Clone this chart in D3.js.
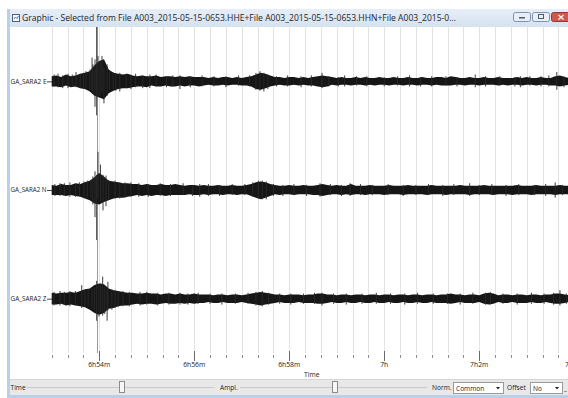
<!DOCTYPE html>
<html>
<head>
<meta charset="utf-8">
<script src="https://cdn.jsdelivr.net/npm/d3@7"></script>
<style>
  html, body { margin: 0; padding: 0; background: #ffffff; }
  svg { display: block; }
  text { font-family: "Open Sans", "Noto Sans", sans-serif; }
</style>
</head>
<body>
<svg id="chart" width="568" height="398"></svg>
<script>
// ---- Data -----------------------------------------------------------------
const windowTitle = "Graphic - Selected from File A003_2015-05-15-0653.HHE+File A003_2015-05-15-0653.HHN+File A003_2015-0...";
const channels = ["GA_SARA2 E", "GA_SARA2 N", "GA_SARA2 Z"];
const recordStart = new Date(2015, 4, 15, 6, 53, 0);
const recordEnd = new Date(2015, 4, 15, 7, 4, 0);
const sampleStep = 6;             // seconds between envelope samples
const pickSecond = 57;            // marker line, seconds after start
const ampRange = 64;              // common normalisation: +/- amplitude per trace band

// Envelope of each trace (upper / lower excursion, amplitude units)
const eUpper = [6,7,5,8,6,7,9, 10,12,19, 24,26,14, 10,9,8,9,
  7,6,7,6,6,7,5,6,6,5,6,5,6,5,5, 5,4,5,4,5,5,4,5,4,5,6, 8,10,9,7,
  5,5,4,5,5,4,5,4,5,6, 7,6,
  5,4,5,4,4,5,4,5,4,4, 5,4,4,5,4,4,5,4,4,5, 4,4,5,5,4,6,5,4,4,5,
  4,4,5,4,4,5,4,4,4,5, 4,5,4,4,5,4,4,6,7,5,4];
const eLower = [6,6,7,5,7,6,8, 9,12,17, 19,21,14, 11,9,8,8,
  7,6,6,7,5,6,6,5,6,6,5,6,5,5,6, 5,4,5,5,4,5,4,4,5,5,6, 9,10,8,6,
  5,4,5,5,4,5,4,5,5,6, 7,6,
  4,5,4,4,5,4,4,5,4,5, 4,4,5,4,4,5,4,4,5,4, 4,5,4,5,5,5,4,4,5,4,
  4,5,4,4,4,5,4,5,4,4, 5,4,4,5,4,4,5,5,6,5,4];
const nUpper = [6,5,7,6,6,8,7, 9,11,15, 20,16,11, 10,9,8,8,
  7,7,6,7,6,6,7,6,6,7,6,5,6,6,5, 6,5,5,6,5,5,6,5,5,6,7, 9,10,9,7,
  6,5,5,6,5,5,6,5,5,6, 7,6,
  5,6,5,5,7,5,5,5,6,5, 5,5,6,5,5,5,6,5,5,5, 5,6,5,5,5,5,5,6,5,5,
  5,5,6,5,5,5,5,5,5,6, 5,5,5,6,5,5,5,5,6,5,5];
const nLower = [6,6,6,7,6,7,8, 10,12,16, 17,14,12, 10,9,9,8,
  7,6,7,6,7,6,6,7,6,6,6,6,5,6,6, 5,6,5,5,6,5,5,6,5,5,7, 9,11,9,7,
  5,6,5,5,6,5,5,5,6,6, 7,6,
  5,5,6,5,6,5,5,6,5,5, 5,6,5,5,5,6,5,5,5,5, 6,5,5,5,6,5,5,5,5,6,
  5,5,5,5,6,5,5,5,6,5, 5,5,6,5,5,5,5,6,5,5,5];
const zUpper = [7,6,7,7,8,7,9, 11,12,16, 18,17,12, 10,9,8,7,
  7,6,6,7,6,6,5,6,6,5,6,5,5,6,5, 5,5,4,5,5,4,5,5,4,5,6, 7,8,7,6,
  5,5,4,5,5,5,4,5,5,6, 6,5,
  5,4,5,5,4,5,5,4,5,5, 4,5,5,4,5,5,4,5,5,4, 5,5,4,5,5,6,5,5,4,5,
  5,4,6,7,6,4,5,5,4,5, 5,4,5,5,4,5,5,6,6,5,4];
const zLower = [7,7,6,8,7,8,9, 10,13,17, 19,17,12, 11,9,8,8,
  7,6,7,6,6,7,6,5,6,6,5,6,5,6,5, 5,4,5,5,4,5,5,5,4,5,6, 7,8,7,6,
  5,4,5,5,5,4,5,5,5,6, 6,5,
  4,5,5,4,5,5,4,5,5,4, 5,5,4,5,5,4,5,5,4,5, 5,4,5,5,5,6,5,4,5,5,
  5,4,6,7,6,4,5,5,4,5, 5,5,4,5,5,4,5,6,6,5,4];

// Individual peaks: [seconds after start, max, min]
const eSpikes = [[8,9,-7],[20.6,9,-8],[30.7,11,-7],[43.3,12,-8],[48.4,14,-10],
  [51,28,-12],[52,20,-14],[54.7,26,-30],[56.8,80,-40],[58.5,30,-18],[61,24,-18],
  [63.5,30,-14],[66,16,-26],[70,20,-17],
  [77.6,11,-9],[86,10,-12],[106,9,-7],[124,8,-8],[162,7,-9],[263,12,-11],[268,10,-12],
  [341.5,10,-8],[370,7,-6],[452,7,-6],[535,8,-7],[592,6,-7],[638,11,-10],
  [3,8,-6],[14,7,-8],[26,8,-6],[36,9,-8],[40,10,-9],[73,13,-11],
  [81,9,-11],[94,9,-8],[100,8,-9],[115,7,-8],[132,8,-6],[145,6,-7],[153,7,-6],[175,6,-7],
  [190,7,-6],[205,6,-6],[220,6,-7],[236,7,-5],[250,7,-6],[258,10,-10],[273,8,-9],[284,6,-6],
  [298,7,-6],[315,6,-7],[328,7,-6],[350,6,-6],[362,5,-6],[385,6,-5],[398,6,-6],[420,5,-6],
  [437,6,-5],[466,5,-6],[480,6,-6],[498,6,-5],[512,5,-6],[548,6,-6],[566,6,-5],[585,5,-6],
  [604,6,-5],[618,6,-6],[628,7,-6],[647,6,-7]];
const nSpikes = [[10.5,8,-7],[23,9,-8],[40.8,10,-9],[49.6,12,-10],[52,16,-17],
  [54.7,22,-32],[56.8,18,-59],[58.5,45,-10],[61.6,30,-14],[64.8,18,-24],[68.6,17,-19],
  [80,11,-10],[92.6,9,-9],[137,8,-7],[187,7,-8],[261,11,-10],[271,10,-11],[339,8,-8],
  [377,8,-7],[528,8,-7],[636,9,-9],
  [4,7,-7],[16,8,-6],[30,7,-8],[35,9,-7],[45,11,-9],[72,12,-12],[86,9,-10],
  [100,9,-8],[110,8,-8],[122,7,-8],[150,7,-7],[166,8,-6],[178,6,-7],[198,7,-7],[212,6,-7],
  [228,7,-6],[244,7,-6],[254,9,-8],[266,11,-11],[280,7,-7],[292,6,-7],[306,7,-6],[322,6,-7],
  [352,7,-6],[366,6,-7],[390,7,-6],[405,6,-6],[425,7,-6],[444,6,-7],[460,6,-6],[476,7,-6],
  [494,6,-7],[508,7,-6],[540,6,-6],[556,7,-6],[574,6,-7],[590,7,-6],[610,6,-6],[624,7,-7],
  [645,6,-6]];
const zSpikes = [[10.5,9,-8],[23,9,-9],[37.9,16,-11],[46,11,-9],[51,12,-12],
  [56.8,21,-26],[59.7,17,-21],[62,18,-16],[64.4,26,-20],[67,16,-18],[70,14,-26],[71,20,-14],
  [76,11,-13],[84,9,-10],[111.5,8,-8],[162,7,-7],[266,9,-9],[341.5,7,-8],[554,8,-7],[642,10,-8],
  [3,8,-8],[16,8,-7],[30,9,-8],[42,10,-9],[54,13,-13],[80,10,-11],
  [90,9,-9],[98,8,-9],[120,8,-7],[134,7,-8],[148,7,-7],[172,6,-7],[185,7,-6],[200,6,-6],
  [215,6,-7],[232,6,-6],[248,7,-6],[258,8,-8],[274,7,-7],[288,6,-6],[302,6,-7],[318,6,-6],
  [332,7,-6],[356,6,-6],[372,6,-7],[392,6,-6],[410,7,-6],[428,6,-6],[446,6,-7],[462,7,-6],
  [482,6,-6],[500,6,-6],[516,6,-7],[532,7,-6],[548,7,-7],[570,6,-6],[588,6,-7],[606,7,-6],
  [622,6,-6],[634,7,-7],[650,6,-6]];

const envelopes = [[eUpper, eLower], [nUpper, nLower], [zUpper, zLower]];
const spikes = [eSpikes, nSpikes, zSpikes];
const tickLabels = ["6h54m", "6h56m", "6h58m", "7h", "7h2m", "7h4m"];

// ---- Layout ----------------------------------------------------------------
const W = 568, H = 398;
const frameLeft = 7, frameW = 3;
const titleTop = 9, titleBottom = 27;
const plotLeft = frameLeft + frameW, plotRight = W;
const traceTop = titleBottom, traceBottom = 353;
const toolTop = 379, toolBottom = 395;

const svg = d3.select("#chart");

const x = d3.scaleTime().domain([recordStart, recordEnd]).range([51.7, 574.2]);
const band = d3.scaleBand().domain(channels).range([traceTop, traceBottom]);
const half = band.bandwidth() / 2;
const amp = d3.scaleLinear().domain([-ampRange, ampRange]).range([half, -half]);
const at = s => new Date(+recordStart + s * 1000);

// plot background
svg.append("rect").attr("x", plotLeft).attr("y", titleBottom)
  .attr("width", plotRight - plotLeft).attr("height", toolTop - titleBottom).attr("fill", "#ffffff");

svg.append("clipPath").attr("id", "plotClip").append("rect")
  .attr("x", plotLeft).attr("y", traceTop)
  .attr("width", plotRight - plotLeft).attr("height", traceBottom - traceTop);

// vertical grid every 20 s
const minorTicks = d3.timeSecond.every(20).range(recordStart, recordEnd);
const majorTicks = d3.timeMinute.every(2).range(at(60), d3.timeSecond.offset(recordEnd, 1));

svg.append("g").selectAll("line").data(minorTicks).join("line")
  .attr("x1", d => Math.round(x(d)) + 0.5).attr("x2", d => Math.round(x(d)) + 0.5)
  .attr("y1", traceTop).attr("y2", traceBottom)
  .attr("stroke", "#e3e3e3").attr("stroke-width", 1);

// time axis
const axis = svg.append("g").attr("class", "time-axis");
axis.selectAll("line.minor").data(minorTicks).join("line").attr("class", "minor")
  .attr("x1", d => Math.round(x(d)) + 0.5).attr("x2", d => Math.round(x(d)) + 0.5)
  .attr("y1", 355).attr("y2", 358).attr("stroke", "#8a8a8a");
axis.selectAll("line.major").data(majorTicks).join("line").attr("class", "major")
  .attr("x1", d => Math.round(x(d)) + 0.5).attr("x2", d => Math.round(x(d)) + 0.5)
  .attr("y1", 351).attr("y2", 361).attr("stroke", "#6a6a6a");
axis.selectAll("text").data(majorTicks).join("text")
  .attr("x", d => x(d)).attr("y", 367).attr("text-anchor", "middle")
  .attr("font-size", 6.8).attr("fill", "#222")
  .text((d, i) => tickLabels[i]);
axis.append("text").attr("x", (51.7 + plotRight) / 2 + 2).attr("y", 377)
  .attr("text-anchor", "middle").attr("font-size", 6.8).attr("fill", "#222").text("Time");

// traces
const traces = svg.append("g").attr("clip-path", "url(#plotClip)");

// pick marker
traces.append("line")
  .attr("x1", Math.round(x(at(pickSecond))) + 0.5).attr("x2", Math.round(x(at(pickSecond))) + 0.5)
  .attr("y1", traceTop).attr("y2", traceBottom)
  .attr("stroke", "#9a9a9a").attr("stroke-width", 1);

channels.forEach((name, ci) => {
  const base = band(name) + half;
  const [up, lo] = envelopes[ci];
  const pts = d3.range(Math.min(up.length, lo.length)).map(i => ({ t: i * sampleStep, up: up[i], lo: lo[i] }));
  const area = d3.area()
    .x(d => x(at(d.t)))
    .y0(d => base + amp(-d.lo))
    .y1(d => base + amp(d.up));
  traces.append("path").datum(pts).attr("d", area).attr("fill", "#161616");
  traces.append("g").selectAll("line").data(spikes[ci]).join("line")
    .attr("x1", d => x(at(d[0]))).attr("x2", d => x(at(d[0])))
    .attr("y1", d => base + amp(d[1])).attr("y2", d => base + amp(d[2]))
    .attr("stroke", "#2a2a2a").attr("stroke-width", 0.9);

  // channel label with its small lead-in tick
  svg.append("text").attr("x", plotLeft + 0.5).attr("y", base + 2.3)
    .attr("font-size", 6.6).attr("fill", "#222").attr("textLength", 36)
    .attr("lengthAdjust", "spacingAndGlyphs").text(name);
  svg.append("line").attr("x1", 47).attr("x2", 52).attr("y1", base + 0.5).attr("y2", base + 0.5)
    .attr("stroke", "#444");
});

// ---- Window chrome ----------------------------------------------------------
const defs = svg.append("defs");
const tg = defs.append("linearGradient").attr("id", "titleGrad").attr("x1", 0).attr("y1", 0).attr("x2", 0).attr("y2", 1);
tg.append("stop").attr("offset", 0).attr("stop-color", "#e6eef8");
tg.append("stop").attr("offset", 1).attr("stop-color", "#d6e2f0");

svg.append("rect").attr("x", frameLeft).attr("y", titleTop)
  .attr("width", W - frameLeft).attr("height", titleBottom - titleTop).attr("fill", "url(#titleGrad)");
svg.append("rect").attr("x", frameLeft).attr("y", titleTop)
  .attr("width", frameW).attr("height", H - titleTop).attr("fill", "#b8d0ea");
svg.append("rect").attr("x", frameLeft).attr("y", toolBottom)
  .attr("width", W - frameLeft).attr("height", H - toolBottom).attr("fill", "#b8d0ea");

// window icon
svg.append("rect").attr("x", 12.5).attr("y", 14.5).attr("width", 7).attr("height", 7)
  .attr("fill", "#f4f6f8").attr("stroke", "#50607a");
svg.append("path").attr("d", "M14,19 L15.5,17 L17,18.5 L18.5,16").attr("fill", "none").attr("stroke", "#2f5f9f").attr("stroke-width", 0.8);

svg.append("text").attr("x", 22).attr("y", 21).attr("font-size", 8.2).attr("fill", "#1e1e1e")
  .attr("textLength", 434).attr("lengthAdjust", "spacingAndGlyphs").text(windowTitle);

// caption buttons
const btn = [
  { x: 513, w: 17, fill: "#e9eef5", glyph: "min" },
  { x: 532, w: 17, fill: "#e9eef5", glyph: "max" },
  { x: 551, w: 19, fill: "#d2584d", glyph: "close" }
];
btn.forEach(b => {
  svg.append("rect").attr("x", b.x + 0.5).attr("y", 12.5).attr("width", b.w).attr("height", 9).attr("rx", 2)
    .attr("fill", b.fill).attr("stroke", b.glyph === "close" ? "#8e3b34" : "#7f92ad");
  const cx = b.x + b.w / 2 + 0.5;
  if (b.glyph === "min") svg.append("rect").attr("x", cx - 3).attr("y", 17).attr("width", 6).attr("height", 1.5).attr("fill", "#4a5b75");
  if (b.glyph === "max") svg.append("rect").attr("x", cx - 2.5).attr("y", 14.5).attr("width", 5).attr("height", 4).attr("fill", "none").attr("stroke", "#4a5b75");
  if (b.glyph === "close") svg.append("path").attr("d", `M${cx - 2.5},15 L${cx + 2.5},19.5 M${cx + 2.5},15 L${cx - 2.5},19.5`).attr("stroke", "#fff").attr("stroke-width", 1.2);
});

// ---- Bottom control strip ---------------------------------------------------
svg.append("rect").attr("x", plotLeft).attr("y", toolTop).attr("width", W - plotLeft).attr("height", toolBottom - toolTop).attr("fill", "#e8e8e8");
svg.append("line").attr("x1", plotLeft).attr("x2", W).attr("y1", toolTop + 0.5).attr("y2", toolTop + 0.5).attr("stroke", "#d6d6d6");

const label = (tx, txt) => svg.append("text").attr("x", tx).attr("y", 390).attr("font-size", 6.6).attr("fill", "#222").text(txt);
label(10.5, "Time");
label(220, "Ampl.");
label(432, "Norm.");
label(507, "Offset");

[[27, 214], [240, 427]].forEach(([a, b]) => {
  svg.append("line").attr("x1", a).attr("x2", b).attr("y1", 387.5).attr("y2", 387.5).attr("stroke", "#c9c9c9");
});
[119, 332].forEach(tx => {
  svg.append("rect").attr("x", tx + 0.5).attr("y", 381.5).attr("width", 5).attr("height", 11)
    .attr("fill", "#f6f6f6").attr("stroke", "#8c8c8c");
});

[{ x: 453, w: 50, t: "Common" }, { x: 530, w: 32, t: "No" }].forEach(c => {
  svg.append("rect").attr("x", c.x + 0.5).attr("y", 382.5).attr("width", c.w).attr("height", 11)
    .attr("fill", "#ffffff").attr("stroke", "#9a9a9a");
  svg.append("text").attr("x", c.x + 3).attr("y", 390.5).attr("font-size", 6.6).attr("fill", "#222").text(c.t);
  const ax = c.x + c.w - 5;
  svg.append("path").attr("d", `M${ax - 2},387 L${ax + 2},387 L${ax},389.5 Z`).attr("fill", "#222");
});
svg.append("line").attr("x1", 564).attr("x2", 567).attr("y1", 391.5).attr("y2", 391.5).attr("stroke", "#999");
</script>
</body>
</html>
